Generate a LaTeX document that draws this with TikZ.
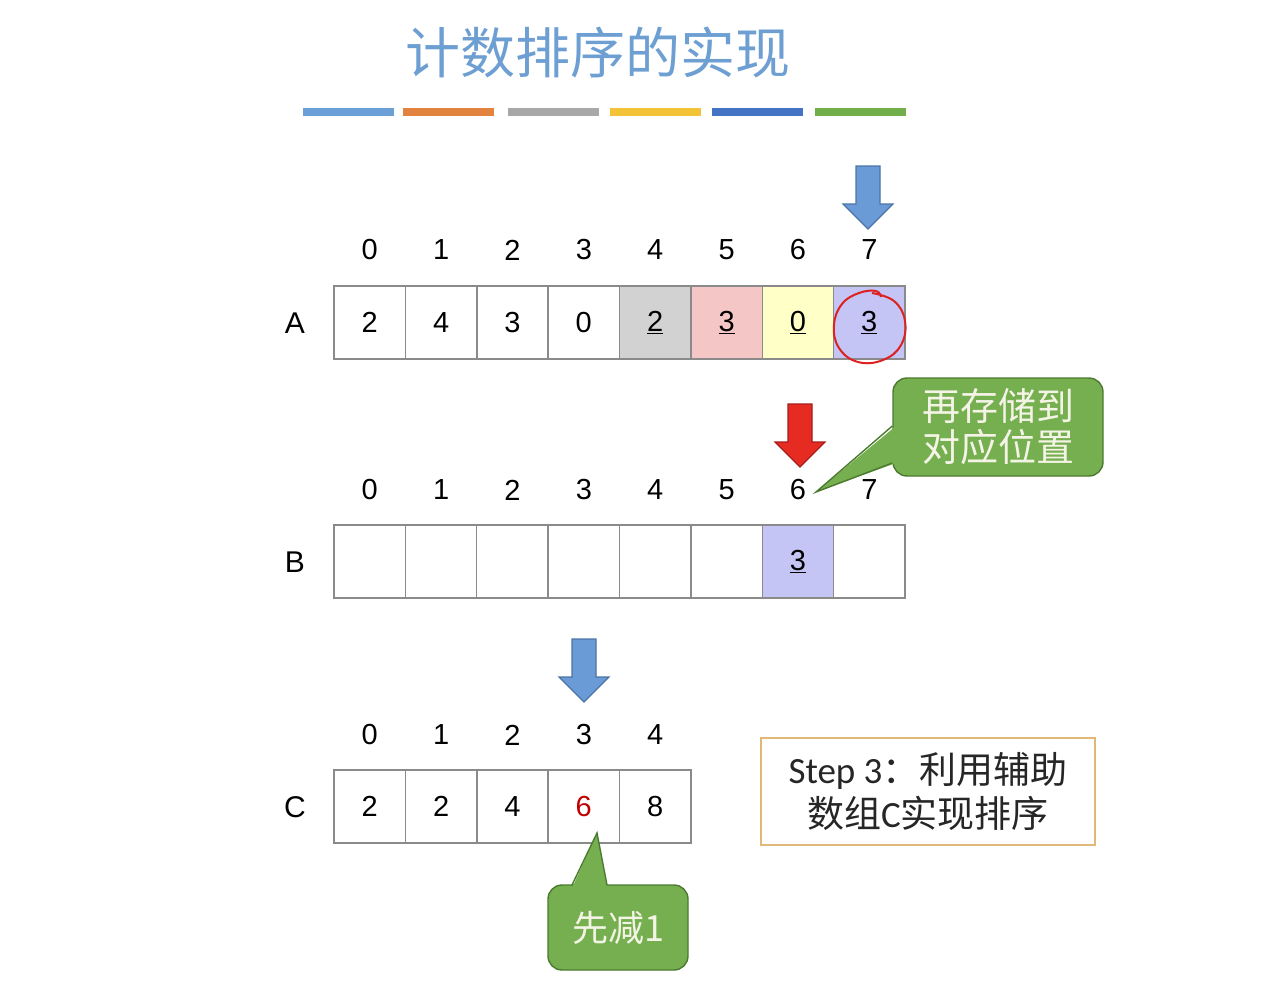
\documentclass[tikz,border=0pt]{standalone}
\usepackage{fontspec}
\setmainfont{Liberation Sans}
\newfontfamily\cjk{Noto Sans CJK SC}
\newfontfamily\stepf{Carlito}
\definecolor{titleblue}{HTML}{6E9FD2}
\definecolor{bar1}{HTML}{6A9FD8}
\definecolor{bar2}{HTML}{E2843F}
\definecolor{bar3}{HTML}{A8A8A8}
\definecolor{bar4}{HTML}{F2C237}
\definecolor{bar5}{HTML}{4473C5}
\definecolor{bar6}{HTML}{72AE4A}
\definecolor{cellgray}{HTML}{8A8A8A}
\definecolor{fgray}{HTML}{D2D2D2}
\definecolor{fpink}{HTML}{F5C6C6}
\definecolor{fyellow}{HTML}{FFFFC8}
\definecolor{flav}{HTML}{C4C4F5}
\definecolor{ablue}{HTML}{6B9BD6}
\definecolor{abluedark}{HTML}{4A74A6}
\definecolor{ared}{HTML}{E62B22}
\definecolor{areddark}{HTML}{A81C1C}
\definecolor{cgreen}{HTML}{76AF50}
\definecolor{cgreendark}{HTML}{4B7A2E}
\definecolor{ctext}{HTML}{F4F4E6}
\definecolor{stepborder}{HTML}{E2B878}
\definecolor{red6}{HTML}{C00000}
\definecolor{circred}{HTML}{DD2222}
\begin{document}
\begin{tikzpicture}[x=1pt,y=-1pt,
  cell/.style={draw=cellgray, line width=1.4pt, minimum width=71.4pt, minimum height=73pt,
    inner sep=0pt, font=\fontsize{29}{34}\selectfont},
  idx/.style={inner sep=0pt, font=\fontsize{29}{34}\selectfont},
  lbl/.style={inner sep=0pt, font=\fontsize{30}{34}\selectfont},
  bar/.style={line width=8pt},
  callbox/.style={draw=cgreendark, fill=cgreen, line width=1.4pt, rounded corners=14pt,
    text=ctext, align=center, inner sep=0pt},
  callline/.style={draw=cgreendark, line width=1.4pt, line join=miter},
  pics/darrow/.style={code={
    \draw[line width=1.2pt, line join=miter, #1] (-12,-31) -- (12,-31) -- (12,7) -- (25,7)
      -- (0,32) -- (-25,7) -- (-12,7) -- cycle;}}
]
\useasboundingbox (0,0) rectangle (1267,994);

% title
\node[inner sep=0pt, text=titleblue, font=\cjk\fontsize{55}{62}\selectfont] (title) at (598,52) {计数排序的实现};

% colour bars
\draw[bar, bar1] (303,112) -- (394,112);
\draw[bar, bar2] (403,112) -- (494,112);
\draw[bar, bar3] (508,112) -- (599,112);
\draw[bar, bar4] (610,112) -- (701,112);
\draw[bar, bar5] (712,112) -- (803,112);
\draw[bar, bar6] (815,112) -- (906,112);

% array A
\node[lbl] (LA) at (295,323) {A};
\foreach \v [count=\i from 0] in {0,...,7}
  \node[idx] (iA\i) at ({369.7+71.375*\i},250) {\v};
\node[cell] (A0) at (369.7,322.5) {2};
\node[cell] (A1) at (441.1,322.5) {4};
\node[cell] (A2) at (512.4,322.5) {3};
\node[cell] (A3) at (583.8,322.5) {0};
\node[cell, fill=fgray] (A4) at (655.2,322.5) {\underline{2}};
\node[cell, fill=fpink] (A5) at (726.6,322.5) {\underline{3}};
\node[cell, fill=fyellow] (A6) at (797.9,322.5) {\underline{0}};
\node[cell, fill=flav] (A7) at (869.3,322.5) {\underline{3}};
\draw[circred, line width=2pt] plot[smooth, tension=0.7] coordinates {
  (872,293) (894,301) (905,321) (901,345) (883,360) (858,362) (839,348) (834,325)
  (842,304) (859,293) (876,291) (881,297)};
\pic at (868,197) {darrow={fill=ablue, draw=abluedark}};

% array B
\node[lbl] (LB) at (295,562) {B};
\foreach \v [count=\i from 0] in {0,...,7}
  \node[idx] (iB\i) at ({369.7+71.375*\i},490) {\v};
\foreach \i in {0,...,5,7}
  \node[cell] (B\i) at ({369.7+71.375*\i},561.5) {};
\node[cell, fill=flav] (B6) at (797.9,561.5) {\underline{3}};
\pic at (800,435) {darrow={fill=ared, draw=areddark}};

% callout 1
\node[callbox, minimum width=210pt, minimum height=98pt, font=\cjk\fontsize{38}{44}\selectfont]
  (call1) at (998,427) {再存储到\\[-3pt]对应位置};
\coordinate (t1) at (816,492);
\fill[cgreen] (896,426) -- (t1) -- (896,463) -- cycle;
\draw[callline] (call1.west |- 0,426) -- (t1) -- (call1.west |- 0,463);

% array C
\node[lbl] (LC) at (295,807) {C};
\foreach \v [count=\i from 0] in {0,...,4}
  \node[idx] (iC\i) at ({369.7+71.375*\i},735) {\v};
\node[cell] (C0) at (369.7,806.5) {2};
\node[cell] (C1) at (441.1,806.5) {2};
\node[cell] (C2) at (512.4,806.5) {4};
\node[cell, text=red6] (C3) at (583.8,806.5) {6};
\node[cell] (C4) at (655.2,806.5) {8};
\pic at (584,670) {darrow={fill=ablue, draw=abluedark}};

% callout 2
\node[callbox, minimum width=140pt, minimum height=85pt, font=\cjk\fontsize{36}{43}\selectfont]
  (call2) at (618,927.5) {先减1};
\coordinate (t2) at (597,833);
\fill[cgreen] (572,888) -- (t2) -- (607,888) -- cycle;
\draw[callline] (572,885) -- (t2) -- (607,885);

% step box
\node[draw=stepborder, line width=1.2pt, minimum width=334pt, minimum height=107pt,
  inner sep=0pt, align=center, text={black!85}, font=\cjk\fontsize{37}{44}\selectfont]
  (step) at (928,791.5) {{\stepf Step 3}：利用辅助\\数组{\stepf C}实现排序};
\end{tikzpicture}
\end{document}
